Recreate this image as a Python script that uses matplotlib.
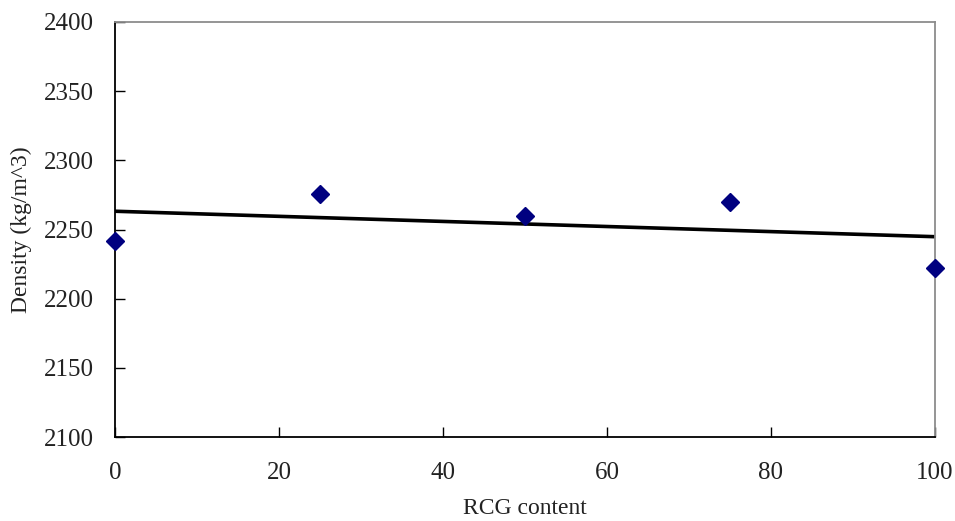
import numpy as np
import matplotlib
matplotlib.use("Agg")
import matplotlib.pyplot as plt

rcg_content = [0, 25, 50, 75, 100]
density = [2242, 2276, 2260, 2270, 2222]
x_ticks = [0, 20, 40, 60, 80, 100]
y_ticks = [2100, 2150, 2200, 2250, 2300, 2350, 2400]

plt.rcParams['font.family'] = ['Liberation Serif', 'DejaVu Serif']

fig = plt.figure(figsize=(9.55, 5.21), dpi=100)
ax = fig.add_axes([0.1204, 0.1612, 0.8586, 0.7966])

# linear trend line through the points
coef = np.polyfit(rcg_content, density, 1)
xs = np.array([0, 100])
ax.plot(xs, np.polyval(coef, xs), color='black', linewidth=2.6, zorder=2)

ax.plot(rcg_content, density, linestyle='none', marker='D', markersize=9.5,
        color='#000080', clip_on=False, zorder=3)

ax.set_xlim(0, 100)
ax.set_ylim(2100, 2400)
ax.set_xticks(x_ticks)
ax.set_yticks(y_ticks)
ax.tick_params(direction='in', length=7, width=1, labelsize=18, colors='black',
               labelcolor='#222222')
ax.tick_params(axis='x', pad=18)
ax.tick_params(axis='y', pad=15)

for side in ['left', 'bottom']:
    ax.spines[side].set_color('black')
    ax.spines[side].set_linewidth(1.3)
for side in ['top', 'right']:
    ax.spines[side].set_color('#8c8c8c')
    ax.spines[side].set_linewidth(1.3)

ax.set_xlabel('RCG content', fontsize=17, color='#222222', labelpad=10)
ax.set_ylabel('Density (kg/m^3)', fontsize=17, color='#222222', labelpad=9)

fig.savefig('out.png', dpi=100)
